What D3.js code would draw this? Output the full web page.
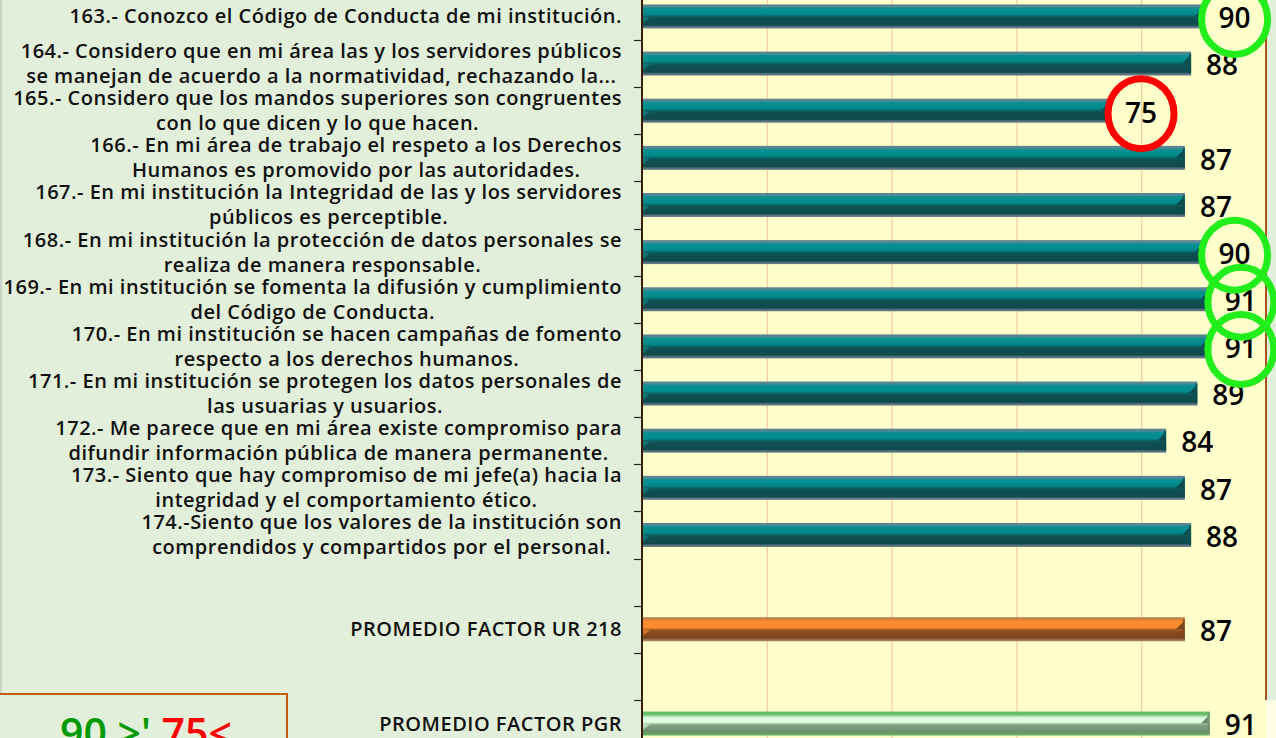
<!DOCTYPE html>
<html><head><meta charset="utf-8">
<script src="https://cdnjs.cloudflare.com/ajax/libs/d3/7.8.5/d3.min.js"></script>
<style>
html,body{margin:0;padding:0;background:#e2efda;overflow:hidden}
svg{display:block}
</style></head>
<body>
<svg id="chart" width="1276" height="738"></svg>
<script>
// ---- data ----
const rowKeys = ["163","164","165","166","167","168","169","170","171","172","173","174","gap1","UR","gap2","PGR"];
const rowLabels = [
  ["163.- Conozco el Código de Conducta de mi institución."],
  ["164.- Considero que en mi área las y los servidores públicos","se manejan de acuerdo a la normatividad, rechazando la..."],
  ["165.- Considero que los mandos superiores son congruentes","con lo que dicen y lo que hacen."],
  ["166.- En mi área de trabajo el respeto a los Derechos","Humanos es promovido por las autoridades."],
  ["167.- En mi institución la Integridad de las y los servidores","públicos es perceptible."],
  ["168.- En mi institución la protección de datos personales se","realiza de manera responsable."],
  ["169.- En mi institución se fomenta la difusión y cumplimiento","del Código de Conducta."],
  ["170.- En mi institución se hacen campañas de fomento","respecto a los derechos humanos."],
  ["171.- En mi institución se protegen los datos personales de","las usuarias y usuarios."],
  ["172.- Me parece que en mi área existe compromiso para","difundir información pública de manera permanente."],
  ["173.- Siento que hay compromiso de mi jefe(a) hacia la","integridad y el comportamiento ético."],
  ["174.-Siento que los valores de la institución son","comprendidos y compartidos por el personal."],
  [],
  ["PROMEDIO FACTOR UR 218"],
  [],
  ["PROMEDIO FACTOR PGR"]
];
const itemValues = [90, 88, 75, 87, 87, 90, 91, 91, 89, 84, 87, 88];
const urValue = 87;
const pgrValue = 91;
const xTicks = [0, 20, 40, 60, 80, 100];
const highThreshold = 90;
const lowThreshold = 75;
const legendHigh = "90 >'";
const legendLow = "75<";

// ---- build series ----
const series = itemValues.map((v, i) => ({key: rowKeys[i], value: v, kind: "item"}));
series.push({key: "UR", value: urValue, kind: "ur"});
series.push({key: "PGR", value: pgrValue, kind: "pgr"});

const svg = d3.select("#chart");
const W = 1276, H = 738;
const plotLeft = 642, plotRight = 1266;

const x = d3.scaleLinear().domain([0, 100]).range([plotLeft, plotRight]);
const y = d3.scaleBand().domain(rowKeys).range([-7.14, -7.14 + 16 * 47.14]).paddingInner(0).paddingOuter(0);
const bw = y.bandwidth();
const barH = 24;

// gradients
const defs = svg.append("defs");
function grad(id, stops) {
  const g = defs.append("linearGradient").attr("id", id).attr("x1", 0).attr("y1", 0).attr("x2", 0).attr("y2", 1);
  stops.forEach(s => g.append("stop").attr("offset", s[0]).attr("stop-color", s[1]));
}
grad("gTeal", [[0,"#60808f"],[0.1,"#4d8a94"],[0.16,"#0a9092"],[0.42,"#00898a"],[0.5,"#0d6062"],[0.58,"#0f5052"],[0.86,"#0e4a4c"],[0.92,"#4f6d78"],[1,"#6c8290"]]);
grad("gOrange", [[0,"#b07a50"],[0.1,"#d9843e"],[0.18,"#ff8c30"],[0.44,"#f98a2e"],[0.52,"#a55c24"],[0.6,"#8a4c1f"],[0.86,"#7a4520"],[0.94,"#9a7050"],[1,"#b08a6a"]]);
grad("gGreen", [[0,"#5fb95f"],[0.14,"#72c472"],[0.24,"#d6f6d6"],[0.44,"#e6ffe6"],[0.54,"#8fb08f"],[0.62,"#7a9c7a"],[0.84,"#6d906d"],[0.92,"#5fa55f"],[1,"#6ab86a"]]);

// backgrounds
svg.append("rect").attr("x", 0).attr("y", 0).attr("width", W).attr("height", H).attr("fill", "#e2efda");
svg.append("rect").attr("x", plotLeft).attr("y", 0).attr("width", plotRight - plotLeft).attr("height", H).attr("fill", "#ffffcc");
svg.append("rect").attr("x", plotRight).attr("y", 700).attr("width", W - plotRight).attr("height", H - 700).attr("fill", "#fdfde6");
svg.append("line").attr("x1", 1).attr("x2", 1).attr("y1", 0).attr("y2", 694).attr("stroke", "#c4c9c0").attr("stroke-width", 1.5);

// gridlines
svg.append("g").selectAll("line").data(xTicks.filter(t => t > 0 && t < 100)).join("line")
  .attr("x1", d => x(d) + 0.5).attr("x2", d => x(d) + 0.5).attr("y1", 0).attr("y2", H)
  .attr("stroke", "#f4c09a").attr("stroke-width", 1);

// right border
svg.append("line").attr("x1", x(100)).attr("x2", x(100)).attr("y1", 0).attr("y2", 700)
  .attr("stroke", "#a9531f").attr("stroke-width", 2);

// bars
const fillFor = k => k === "item" ? "url(#gTeal)" : k === "ur" ? "url(#gOrange)" : "url(#gGreen)";
const bevelDark = k => k === "item" ? "#0e4b4d" : k === "ur" ? "#7c4620" : "#6a8e6a";
const bevelLight = k => k === "item" ? "#0a8586" : k === "ur" ? "#f08530" : "#cfeecf";
const gb = svg.append("g");
series.forEach(d => {
  const top = y(d.key) + (bw - barH) / 2;
  const x0 = x(0), xe = x(d.value);
  gb.append("rect").attr("x", x0).attr("y", top).attr("width", xe - x0).attr("height", barH).attr("fill", fillFor(d.kind));
  gb.append("path").attr("d", `M${xe - 9},${top + barH / 2} L${xe - 1},${top + 4} L${xe - 1},${top + barH / 2} Z`).attr("fill", bevelDark(d.kind));
  gb.append("rect").attr("x", xe - 2).attr("y", top + 2).attr("width", 2).attr("height", barH - 4).attr("fill", bevelDark(d.kind)).attr("opacity", 0.8);
  gb.append("path").attr("d", `M${x0},${top + barH / 2} L${x0 + 8},${top + barH / 2 + 1} L${x0},${top + barH - 5} Z`).attr("fill", bevelLight(d.kind)).attr("opacity", 0.7);
});

// left axis
svg.append("line").attr("x1", plotLeft).attr("x2", plotLeft).attr("y1", 0).attr("y2", H).attr("stroke", "#3a1d08").attr("stroke-width", 2);
svg.append("g").selectAll("line").data(rowKeys.slice(1)).join("line")
  .attr("x1", plotLeft - 8).attr("x2", plotLeft).attr("y1", d => Math.round(y(d)) + 0.5).attr("y2", d => Math.round(y(d)) + 0.5)
  .attr("stroke", "#222").attr("stroke-width", 1.2);

// category labels
const labelRight = 622;
const lg = svg.append("g").attr("font-family", "'Open Sans', sans-serif").attr("font-weight", 600)
  .attr("font-size", 20).attr("letter-spacing", 0.5).attr("fill", "#111");
rowKeys.forEach((k, i) => {
  const lines = rowLabels[i];
  if (!lines.length) return;
  const cy = y(k) + bw / 2;
  const n = lines.length;
  const lh = 25;
  const texts = lines.map((ln, j) => lg.append("text").attr("y", cy + (j - (n - 1) / 2) * lh).attr("dy", "0.35em").attr("text-anchor", "middle").text(ln));
  const maxW = d3.max(texts, t => t.node().getComputedTextLength());
  texts.forEach(t => t.attr("x", labelRight - maxW / 2));
});

// value labels
const gap = 15;
const vg = svg.append("g").attr("font-family", "'Open Sans', sans-serif").attr("font-weight", 600).attr("font-size", 28).attr("fill", "#000");
const marks = [];
series.forEach(d => {
  const cy = y(d.key) + bw / 2;
  const t = vg.append("text").attr("x", x(d.value) + gap).attr("y", cy + 2).attr("dy", "0.35em").text(d3.format("d")(d.value));
  const w = t.node().getComputedTextLength();
  if (d.kind === "item" && (d.value >= highThreshold || d.value <= lowThreshold)) {
    marks.push({cx: x(d.value) + gap + w / 2, cy: cy + 3, color: d.value >= highThreshold ? "#22ee1c" : "#ff0000"});
  }
});
svg.append("g").selectAll("ellipse").data(marks).join("ellipse")
  .attr("cx", d => d.cx).attr("cy", d => d.cy).attr("rx", 33).attr("ry", 35)
  .attr("fill", "none").attr("stroke", d => d.color).attr("stroke-width", 7);

// legend box
svg.append("rect").attr("x", -2).attr("y", 694).attr("width", 289).attr("height", 60)
  .attr("fill", "#e2efda").attr("stroke", "#c55a11").attr("stroke-width", 2);
const lt = svg.append("text").attr("x", 60).attr("y", 748).attr("font-family", "'Open Sans', sans-serif").attr("font-weight", 600).attr("font-size", 41);
lt.append("tspan").attr("fill", "#009900").text(legendHigh + " ");
lt.append("tspan").attr("fill", "#ff0000").text(legendLow);
</script>
</body></html>
